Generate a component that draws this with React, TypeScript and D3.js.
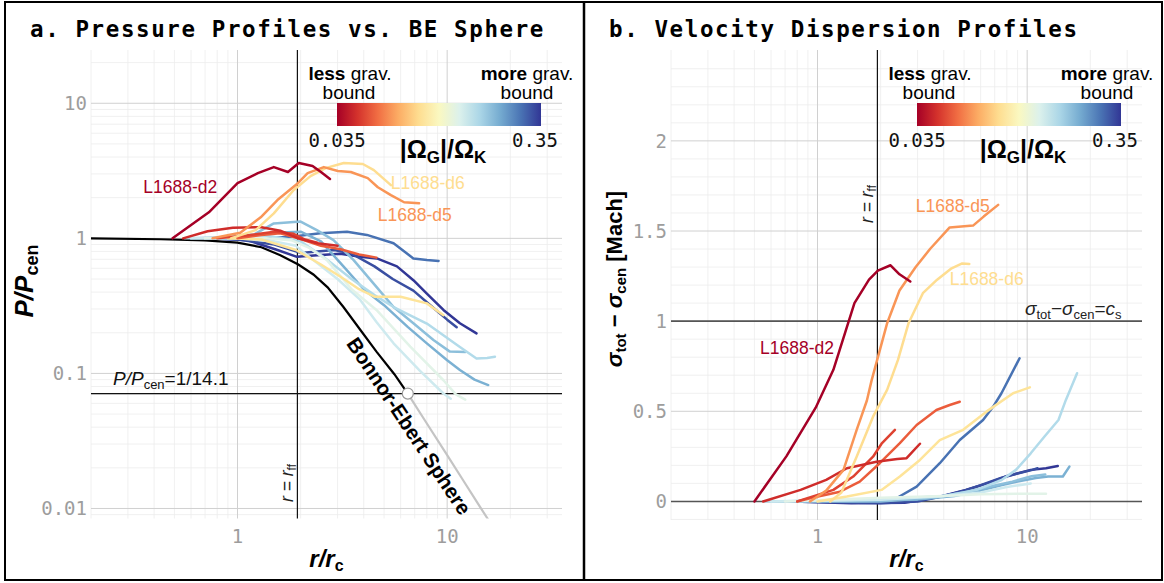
import React from "react";
import * as d3 from "d3";

type Pt = [number, number];

// ---------- Pressure profiles: [r/rc, P/Pcen] ----------
const d2Pressure: Pt[] = [[0.49,1.0],[0.73,1.56],[1.0,2.56],[1.25,3.04],[1.49,3.37],[1.74,3.1],[1.96,3.61],[2.28,3.43],[2.5,3.1],[2.76,2.75]];
const d5Pressure: Pt[] = [[0.76,1.0],[1.03,1.1],[1.29,1.43],[1.55,1.92],[1.94,2.56],[2.16,3.04],[2.58,3.37],[3.01,3.15],[3.47,3.1],[4.18,2.79],[4.67,2.39],[5.39,2.09],[6.23,1.85],[7.35,1.82]];
const d6Pressure: Pt[] = [[0.93,1.0],[1.22,1.15],[1.49,1.53],[1.85,2.27],[2.23,2.89],[2.63,3.31],[3.21,3.61],[3.96,3.55],[4.47,3.2],[5.39,2.48]];
const r1Pressure: Pt[] = [[0.55,1.0],[0.72,1.13],[0.95,1.2],[1.3,1.21],[1.6,1.14],[1.95,1.0],[2.4,0.92],[3.0,0.88]];
const r2Pressure: Pt[] = [[0.8,1.0],[1.1,1.05],[1.5,1.12],[1.85,1.08],[2.1,0.98],[2.4,0.93]];
const r3Pressure: Pt[] = [[1.0,1.0],[1.3,1.06],[1.6,1.09],[1.95,1.0],[2.5,0.88],[3.1,0.83],[3.8,0.76],[4.6,0.72]];
const y2Pressure: Pt[] = [[0.9,1.0],[1.3,0.98],[1.9,0.82],[2.5,0.64],[3.1,0.52],[3.8,0.42],[4.5,0.37],[6.0,0.37],[8.0,0.33],[9.6,0.27]];
const b1Pressure: Pt[] = [[0.75,1.0],[1.4,1.0],[1.85,1.03],[2.48,1.09],[3.33,1.12],[4.14,1.06],[5.55,0.92],[6.9,0.71],[8.0,0.69],[9.1,0.68]];
const db1Pressure: Pt[] = [[0.77,1.0],[1.11,0.97],[1.55,0.82],[1.92,0.73],[2.4,0.75],[3.09,0.77],[3.85,0.73],[4.62,0.71],[5.76,0.62],[6.9,0.49],[8.0,0.39],[9.6,0.295],[11.5,0.235],[13.8,0.198]];
const db2Pressure: Pt[] = [[0.7,1.0],[1.0,0.98],[1.5,0.9],[2.0,0.78],[2.4,0.8],[2.9,0.82],[3.5,0.77],[4.5,0.62],[5.5,0.5],[6.9,0.41],[8.5,0.31],[10.0,0.25],[11.1,0.22]];
const lb6Pressure: Pt[] = [[0.56,1.0],[0.9,1.0],[1.4,1.04],[2.0,0.95],[2.6,0.72],[3.5,0.5],[4.5,0.38],[5.55,0.31],[8.0,0.234],[11.5,0.157],[13.8,0.129],[15.5,0.13],[16.9,0.133]];
const lb4Pressure: Pt[] = [[0.8,1.0],[1.2,1.07],[1.49,1.29],[2.0,1.33],[2.39,1.15],[2.87,0.97],[3.58,0.69],[4.47,0.46],[5.55,0.31],[6.9,0.235],[8.6,0.177],[10.3,0.145],[12.2,0.144]];
const lb5Pressure: Pt[] = [[0.6,1.0],[1.0,1.02],[1.5,1.1],[2.0,1.12],[2.5,0.95],[3.2,0.62],[4.0,0.42],[5.0,0.32],[6.5,0.22],[8.0,0.167],[10.0,0.125],[11.5,0.106],[13.5,0.09],[15.7,0.082]];
const ll1Pressure: Pt[] = [[0.6,1.0],[1.0,1.0],[1.5,0.95],[1.9,0.88],[2.3,0.69],[3.0,0.5],[3.85,0.35],[4.6,0.24],[5.55,0.167],[7.4,0.105],[9.6,0.071],[10.4,0.065]];
const ll2Pressure: Pt[] = [[0.7,1.0],[1.2,1.02],[1.8,0.97],[2.2,0.85],[2.67,0.69],[3.5,0.42],[4.6,0.295],[6.67,0.158],[9.6,0.089],[11,0.07],[12.2,0.064]];

// ---------- Velocity dispersion profiles: [r/rc, sigma_tot - sigma_cen] ----------
const d2Sigma: Pt[] = [[0.5,0],[0.71,0.25],[0.98,0.52],[1.19,0.73],[1.5,1.1],[1.76,1.23],[1.94,1.28],[2.23,1.31],[2.46,1.26],[2.77,1.22]];
const d5Sigma: Pt[] = [[0.92,0],[1.1,0.06],[1.33,0.175],[1.54,0.4],[1.72,0.56],[1.81,0.67],[2.15,0.99],[2.46,1.17],[2.94,1.3],[3.44,1.4],[4.27,1.52],[5.52,1.53],[6.2,1.58],[7.27,1.645]];
const d6Sigma: Pt[] = [[1.15,0],[1.3,0.05],[1.54,0.25],[1.84,0.47],[2.15,0.62],[2.42,0.785],[2.72,0.99],[3.18,1.155],[3.72,1.23],[4.36,1.293],[4.9,1.32],[5.3,1.317]];
const r1Sigma: Pt[] = [[0.55,0],[0.83,0.064],[1.1,0.12],[1.38,0.184],[1.91,0.22],[2.4,0.235],[2.66,0.24],[3.08,0.32]];
const r2Sigma: Pt[] = [[0.8,0],[1.19,0.064],[1.48,0.138],[1.84,0.248],[2.02,0.32],[2.34,0.397]];
const r3Sigma: Pt[] = [[0.8,0],[0.92,0.018],[1.28,0.054],[1.59,0.11],[1.98,0.212],[2.47,0.323],[2.97,0.424],[3.69,0.507],[4.27,0.535],[4.77,0.553]];
const y2Sigma: Pt[] = [[1.0,0],[1.38,0.027],[2.02,0.064],[2.47,0.138],[3.08,0.23],[3.83,0.34],[4.95,0.397],[6.39,0.498],[8.57,0.6],[10.3,0.633]];
const b1Sigma: Pt[] = [[0.75,0],[1.5,0.0],[2.3,0.008],[2.97,0.082],[3.83,0.212],[4.77,0.341],[6.16,0.452],[6.89,0.526],[7.54,0.6],[9.2,0.794]];
const db1Sigma: Pt[] = [[0.77,0],[1.45,-0.01],[2.6,-0.007],[3.87,0.027],[5.1,0.064],[6.45,0.1],[7.86,0.138],[10.4,0.175],[12.3,0.184],[14.0,0.197]];
const db2Sigma: Pt[] = [[0.7,0],[1.2,-0.005],[2.0,-0.01],[3.0,0.0],[4.0,0.03],[5.0,0.06],[6.0,0.09],[7.5,0.13],[9.0,0.155],[10.6,0.175],[11.2,0.184]];
const lb6Sigma: Pt[] = [[0.56,0],[1.45,0.008],[3.87,0.027],[5.74,0.064],[7.55,0.119],[8.84,0.175],[10.4,0.267],[12.1,0.36],[14.1,0.452],[15.3,0.563],[17.3,0.711]];
const lb4Sigma: Pt[] = [[0.8,0],[2,0.0],[3.5,0.02],[5,0.05],[6.5,0.08],[8.5,0.11],[10.5,0.14],[12.2,0.15]];
const lb5Sigma: Pt[] = [[0.6,0],[1.5,0.005],[3.0,0.01],[4.5,0.03],[6.0,0.06],[7.5,0.09],[9.0,0.11],[11,0.13],[12.6,0.138],[14.8,0.138],[15.9,0.193]];
const ll1Sigma: Pt[] = [[0.6,0],[2,0.01],[4,0.03],[6,0.05],[8,0.08],[10.4,0.1]];
const ll2Sigma: Pt[] = [[0.7,0],[2,0.02],[4,0.03],[6,0.04],[9,0.042],[12.3,0.042]];

// ---------- Bonnor-Ebert sphere ----------
const beInside: Pt[] = [[0.2,1.0],[0.43,0.985],[0.7,0.965],[1.0,0.93],[1.3,0.86],[1.6,0.75],[1.95,0.64],[2.3,0.54],[2.69,0.434],[3.2,0.31],[3.88,0.207],[4.6,0.145],[5.6,0.0986],[6.49,0.0709]];
const beOutside: Pt[] = [[6.49,0.0709],[8,0.0426],[10,0.0248],[12,0.0159],[14,0.0109],[16,0.0079],[18,0.0059]];

// ---------- cores ----------
const coreIds = ["DB1","DB2","B1","LB5","LB4","LB6","LL1","LL2","Y2","R3","R2","R1","L1688-d6","L1688-d5","L1688-d2"];
const coreOmega = [0.35,0.32,0.28,0.215,0.2,0.17,0.15,0.135,0.092,0.052,0.047,0.043,0.088,0.064,0.035];
const corePressure = [db1Pressure,db2Pressure,b1Pressure,lb5Pressure,lb4Pressure,lb6Pressure,ll1Pressure,ll2Pressure,y2Pressure,r3Pressure,r2Pressure,r1Pressure,d6Pressure,d5Pressure,d2Pressure];
const coreSigma = [db1Sigma,db2Sigma,b1Sigma,lb5Sigma,lb4Sigma,lb6Sigma,ll1Sigma,ll2Sigma,y2Sigma,r3Sigma,r2Sigma,r1Sigma,d6Sigma,d5Sigma,d2Sigma];

// labels (data coordinates of text start)
const labelNames = ["L1688-d2","L1688-d6","L1688-d5"];
const labelPressurePos: Pt[] = [[0.355,2.17],[5.38,2.32],[4.67,1.34]];
const labelSigmaPos: Pt[] = [[0.532,0.818],[4.27,1.2],[2.94,1.605]];

const xTicks = [1, 10];
const pTicks = [0.01, 0.1, 1, 10];
const pTickLabels = ["0.01", "0.1", "1", "10"];
const sTicks = [0, 0.5, 1, 1.5, 2];
const sTickLabels = ["0", "0.5", "1", "1.5", "2"];
const rFF = 1.93;
const pCrit = 1 / 14.1;
const omegaRange = [0.035, 0.35];

const SANS = "Liberation Sans, Arial, Helvetica, sans-serif";
const MONO = "DejaVu Sans Mono, monospace";

export default function App() {
  const xL = d3.scaleLog().domain([0.2, 35.3]).range([91, 562]);
  const xR = d3.scaleLog().domain([0.2, 35.3]).range([671, 1142]);
  const yP = d3.scaleLog().domain([0.00843, 24.8]).range([518.5, 50]);
  const yS = d3.scaleLinear().domain([-0.103, 2.504]).range([520, 50]);
  const cScale = d3.scaleLog().domain(omegaRange).range([0, 1]).clamp(true);
  const col = (o: number) => d3.interpolateRdYlBu(cScale(o));

  const lineP = d3.line<Pt>().x((d) => xL(d[0])).y((d) => yP(d[1]));
  const lineS = d3.line<Pt>().x((d) => xR(d[0])).y((d) => yS(d[1]));

  const isPow10 = (v: number) => Math.abs(Math.log10(v) - Math.round(Math.log10(v))) < 1e-9;
  const xMinor = xL.ticks().filter((v) => !isPow10(v));
  const pMinor = yP.ticks().filter((v) => !isPow10(v) && v >= 0.00843 && v <= 24.8);
  const sMinor = d3.range(-1, 26).filter((i) => i % 5 !== 0).map((i) => i / 10);

  const gradStops = d3.range(0, 1.0001, 0.1);

  const majorC = "#d0d0d0";
  const minorC = "#ececec";
  const tickC = "#9d9d9d";

  const colorbar = (x0: number) => (
    <g>
      <text x={x0 + 13} y={80} textAnchor="middle" fontFamily={SANS} fontSize={19}>
        <tspan fontWeight="bold">less</tspan>{" grav."}
      </text>
      <text x={x0 + 12} y={99} textAnchor="middle" fontFamily={SANS} fontSize={19}>bound</text>
      <text x={x0 + 190} y={80} textAnchor="middle" fontFamily={SANS} fontSize={19}>
        <tspan fontWeight="bold">more</tspan>{" grav."}
      </text>
      <text x={x0 + 190} y={99} textAnchor="middle" fontFamily={SANS} fontSize={19}>bound</text>
      <rect x={x0} y={103} width={204} height={23} fill="url(#cbgrad)" />
      <text x={x0} y={147} textAnchor="middle" fontFamily={MONO} fontSize={19} fill="#111">0.035</text>
      <text x={x0 + 198} y={147} textAnchor="middle" fontFamily={MONO} fontSize={19} fill="#111">0.35</text>
      <text x={x0 + 106} y={158} textAnchor="middle" fontFamily={SANS} fontSize={25} fontWeight="bold">
        |Ω<tspan fontSize={17} dy={5}>G</tspan><tspan dy={-5}>|/Ω</tspan><tspan fontSize={17} dy={5}>K</tspan>
      </text>
    </g>
  );

  return (
    <svg width={1164} height={583} style={{ position: "absolute", left: 0, top: 0, background: "#fff" }}>
      <defs>
        <linearGradient id="cbgrad" x1="0" x2="1" y1="0" y2="0">
          {gradStops.map((t, i) => (
            <stop key={i} offset={`${t * 100}%`} stopColor={d3.interpolateRdYlBu(t)} />
          ))}
        </linearGradient>
        <clipPath id="clipL"><rect x={91} y={50} width={471} height={468.5} /></clipPath>
        <clipPath id="clipR"><rect x={671} y={50} width={471} height={470} /></clipPath>
      </defs>
      <rect x={0} y={0} width={1164} height={583} fill="#fff" />

      {/* ================= LEFT PANEL ================= */}
      <g>
        {xMinor.map((v, i) => <line key={"lxm" + i} x1={xL(v)} x2={xL(v)} y1={50} y2={518.5} stroke={minorC} strokeWidth={0.8} />)}
        {pMinor.map((v, i) => <line key={"lym" + i} x1={91} x2={562} y1={yP(v)} y2={yP(v)} stroke={minorC} strokeWidth={0.8} />)}
        {xTicks.map((v, i) => <line key={"lxM" + i} x1={xL(v)} x2={xL(v)} y1={50} y2={518.5} stroke={majorC} strokeWidth={1} />)}
        {pTicks.map((v, i) => <line key={"lyM" + i} x1={91} x2={562} y1={yP(v)} y2={yP(v)} stroke={majorC} strokeWidth={1} />)}

        {/* reference lines */}
        <line x1={91} x2={562} y1={yP(pCrit)} y2={yP(pCrit)} stroke="#111" strokeWidth={1.2} />
        <line x1={xL(rFF)} x2={xL(rFF)} y1={50} y2={518.5} stroke="#111" strokeWidth={1.2} />

        <g clipPath="url(#clipL)">
          <path d={lineP(beOutside) || ""} fill="none" stroke="#c4c4c4" strokeWidth={2.2} />
          <path d={lineP(beInside) || ""} fill="none" stroke="#000" strokeWidth={2.2} />
          {corePressure.map((p, i) => (
            <path key={"pp" + i} d={lineP(p) || ""} fill="none" stroke={col(coreOmega[i])} strokeWidth={2.5} strokeLinejoin="round" strokeLinecap="round" />
          ))}
        </g>
        <circle cx={xL(beInside[beInside.length - 1][0])} cy={yP(pCrit)} r={5.5} fill="#fff" stroke="#9a9a9a" strokeWidth={1.2} />

        {labelNames.map((n, i) => (
          <text key={"lpl" + i} x={xL(labelPressurePos[i][0])} y={yP(labelPressurePos[i][1])} fontFamily={SANS} fontSize={17.5}
            fill={col(coreOmega[coreIds.indexOf(n)])}>{n}</text>
        ))}

        <text transform="translate(403,430) rotate(56.5)" textAnchor="middle" fontFamily={SANS} fontWeight="bold" fontSize={20.5} fill="#000">Bonnor-Ebert Sphere</text>

        <text x={113} y={385} fontFamily={SANS} fontSize={19} fill="#111">
          <tspan fontStyle="italic">P/P</tspan><tspan fontSize={13} dy={4}>cen</tspan><tspan dy={-4}>=1/14.1</tspan>
        </text>
        <text transform={`translate(${xL(rFF) - 4},502) rotate(-90)`} fontFamily={SANS} fontSize={17.5} fill="#222">
          <tspan fontStyle="italic">r = r</tspan><tspan fontSize={12} dy={3}>ff</tspan>
        </text>

        {/* axes text */}
        {pTicks.map((v, i) => (
          <text key={"lyt" + i} x={87} y={yP(v)} dy="0.36em" textAnchor="end" fontFamily={MONO} fontSize={19} fill={tickC}>{pTickLabels[i]}</text>
        ))}
        {xTicks.map((v, i) => (
          <text key={"lxt" + i} x={xL(v)} y={543} textAnchor="middle" fontFamily={MONO} fontSize={19} fill={tickC}>{String(v)}</text>
        ))}
        <text x={326.5} y={567} textAnchor="middle" fontFamily={SANS} fontWeight="bold" fontSize={24}>
          <tspan fontStyle="italic">r/r</tspan><tspan fontSize={16} dy={4}>c</tspan>
        </text>
        <text transform="translate(33,281) rotate(-90)" textAnchor="middle" fontFamily={SANS} fontWeight="bold" fontSize={26}>
          <tspan fontStyle="italic">P/P</tspan><tspan fontSize={18} dy={5}>cen</tspan>
        </text>

        {colorbar(337)}

        <text x={30} y={37} fontFamily={MONO} fontWeight="bold" fontSize={22.5} letterSpacing={1.6}>a. Pressure Profiles vs. BE Sphere</text>
      </g>

      {/* ================= RIGHT PANEL ================= */}
      <g>
        {xMinor.map((v, i) => <line key={"rxm" + i} x1={xR(v)} x2={xR(v)} y1={50} y2={520} stroke={minorC} strokeWidth={0.8} />)}
        {sMinor.map((v, i) => <line key={"rym" + i} x1={671} x2={1142} y1={yS(v)} y2={yS(v)} stroke={minorC} strokeWidth={0.8} />)}
        {xTicks.map((v, i) => <line key={"rxM" + i} x1={xR(v)} x2={xR(v)} y1={50} y2={520} stroke={majorC} strokeWidth={1} />)}
        {sTicks.map((v, i) => <line key={"ryM" + i} x1={671} x2={1142} y1={yS(v)} y2={yS(v)} stroke={majorC} strokeWidth={1} />)}

        <line x1={671} x2={1142} y1={yS(0)} y2={yS(0)} stroke="#555" strokeWidth={1.6} />
        <line x1={671} x2={1142} y1={yS(1)} y2={yS(1)} stroke="#555" strokeWidth={1.6} />
        <line x1={xR(rFF)} x2={xR(rFF)} y1={50} y2={520} stroke="#111" strokeWidth={1.2} />

        <g clipPath="url(#clipR)">
          {coreSigma.map((p, i) => (
            <path key={"sp" + i} d={lineS(p) || ""} fill="none" stroke={col(coreOmega[i])} strokeWidth={2.5} strokeLinejoin="round" strokeLinecap="round" />
          ))}
        </g>

        {labelNames.map((n, i) => (
          <text key={"lsl" + i} x={xR(labelSigmaPos[i][0])} y={yS(labelSigmaPos[i][1])} fontFamily={SANS} fontSize={17.5}
            fill={col(coreOmega[coreIds.indexOf(n)])}>{n}</text>
        ))}

        <text x={1025} y={315} fontFamily={SANS} fontSize={19} fill="#222">
          <tspan fontStyle="italic">σ</tspan><tspan fontSize={13} dy={4}>tot</tspan><tspan dy={-4}>−</tspan>
          <tspan fontStyle="italic">σ</tspan><tspan fontSize={13} dy={4}>cen</tspan><tspan dy={-4}>=</tspan>
          <tspan fontStyle="italic">c</tspan><tspan fontSize={13} dy={4}>s</tspan>
        </text>
        <text transform={`translate(${xR(rFF) - 4},223) rotate(-90)`} fontFamily={SANS} fontSize={17.5} fill="#222">
          <tspan fontStyle="italic">r = r</tspan><tspan fontSize={12} dy={3}>ff</tspan>
        </text>

        {sTicks.map((v, i) => (
          <text key={"ryt" + i} x={667} y={yS(v)} dy="0.36em" textAnchor="end" fontFamily={MONO} fontSize={19} fill={tickC}>{sTickLabels[i]}</text>
        ))}
        {xTicks.map((v, i) => (
          <text key={"rxt" + i} x={xR(v)} y={543} textAnchor="middle" fontFamily={MONO} fontSize={19} fill={tickC}>{String(v)}</text>
        ))}
        <text x={906.5} y={567} textAnchor="middle" fontFamily={SANS} fontWeight="bold" fontSize={24}>
          <tspan fontStyle="italic">r/r</tspan><tspan fontSize={16} dy={4}>c</tspan>
        </text>
        <text transform="translate(622,279) rotate(-90)" textAnchor="middle" fontFamily={SANS} fontWeight="bold" fontSize={22}>
          <tspan fontStyle="italic">σ</tspan><tspan fontSize={15} dy={4}>tot</tspan><tspan dy={-4}>{" − "}</tspan>
          <tspan fontStyle="italic">σ</tspan><tspan fontSize={15} dy={4}>cen</tspan><tspan dy={-4}>{" [Mach]"}</tspan>
        </text>

        {colorbar(917)}

        <text x={609} y={37} fontFamily={MONO} fontWeight="bold" fontSize={22.5} letterSpacing={1.6}>b. Velocity Dispersion Profiles</text>
      </g>

      {/* frame */}
      <rect x={5} y={2} width={1157} height={578} fill="none" stroke="#000" strokeWidth={2} />
      <line x1={584} x2={584} y1={2} y2={580} stroke="#000" strokeWidth={2.5} />
    </svg>
  );
}
